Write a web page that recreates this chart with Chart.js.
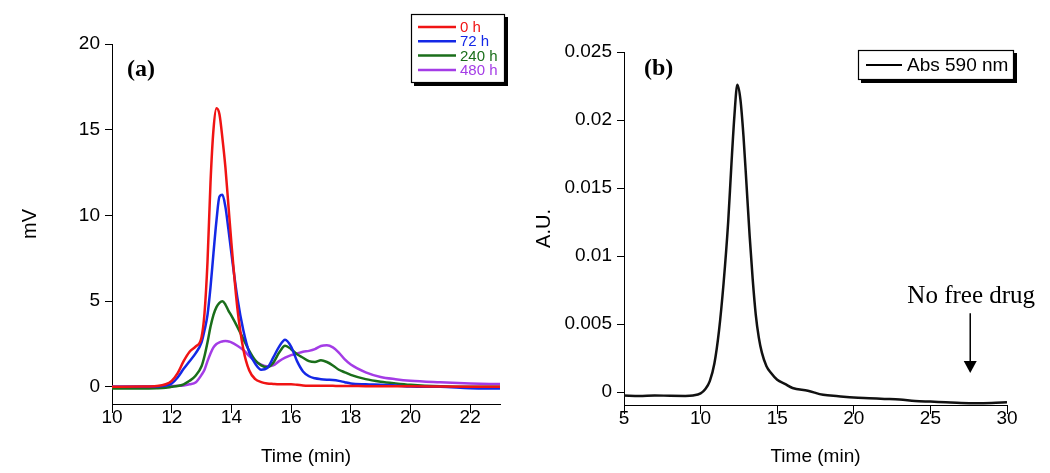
<!DOCTYPE html>
<html>
<head>
<meta charset="utf-8">
<script src="https://cdn.jsdelivr.net/npm/chart.js@4.4.1/dist/chart.umd.min.js"></script>
<style>
  body{margin:0;background:#fff;}
  .panel{position:absolute;top:0;width:525px;height:473px;}
</style>
</head>
<body>
<div class="panel" style="left:0"><canvas id="gpcChart" width="525" height="473"></canvas></div>
<div class="panel" style="left:525px"><canvas id="absChart" width="525" height="473"></canvas></div>
<script>
// (a) GPC traces, mV vs time (min)
const timeA = [10,11,11.5,11.8,12,12.2,12.4,12.6,12.8,13,13.1,13.2,13.3,13.4,13.5,13.6,13.7,13.8,13.9,14,14.2,14.4,14.6,14.8,15,15.2,15.4,15.6,15.8,16,16.2,16.4,16.6,16.8,17,17.2,17.4,17.6,17.8,18,18.5,19,19.5,20,21,22,23];
const mv0h   = [0,0.02,0.05,0.15,0.35,0.8,1.5,2.05,2.35,2.9,4.3,7.3,11.9,15.0,16.25,15.9,14.5,12.8,10.6,8.4,4.6,2.2,0.95,0.45,0.28,0.2,0.17,0.15,0.15,0.15,0.12,0.08,0.07,0.07,0.06,0.06,0.06,0.05,0.05,0.05,0.04,0.04,0.03,0.03,0.02,0.01,0];
const mv72h  = [0,0,0.02,0.08,0.2,0.55,1.05,1.5,1.95,2.6,3.3,4.2,5.8,7.8,9.7,11.1,11.2,10.5,9.2,7.8,5.2,3.3,2.0,1.35,1.0,1.1,1.7,2.35,2.75,2.35,1.5,0.9,0.62,0.5,0.45,0.42,0.4,0.35,0.27,0.2,0.15,0.12,0.08,0.02,0,-0.08,-0.1];
const mv240h = [-0.1,-0.1,-0.08,-0.05,0,0.05,0.15,0.35,0.65,1.2,1.8,2.6,3.5,4.2,4.65,4.9,5.0,4.8,4.45,4.15,3.5,2.8,2.1,1.55,1.25,1.15,1.4,2.0,2.4,2.2,1.9,1.7,1.5,1.45,1.55,1.45,1.25,1.0,0.85,0.7,0.45,0.3,0.2,0.12,0.03,0,0];
const mv480h = [0,0.02,0.03,0.04,0.05,0.06,0.08,0.15,0.25,0.7,1.0,1.5,1.95,2.3,2.5,2.6,2.65,2.68,2.65,2.6,2.4,2.15,1.8,1.5,1.3,1.2,1.25,1.5,1.7,1.85,1.95,2.05,2.1,2.2,2.38,2.42,2.3,2.0,1.6,1.3,0.85,0.58,0.45,0.36,0.27,0.2,0.16];
const labelsA = ['0 h','72 h','240 h','480 h'];
const colorsA = ['#f01414','#1428e6','#1a6e1a','#a43ce6'];
const xTicksA = [10,12,14,16,18,20,22];
const yTicksA = [0,5,10,15,20];

// (b) absorbance at 590 nm vs time (min)
const timeB = [5,6,7,8,9,9.5,10,10.3,10.6,10.9,11.2,11.5,11.8,12,12.2,12.4,12.6,12.8,13,13.2,13.4,13.6,13.8,14,14.3,14.6,15,15.5,16,17,18,19,20,21,22,23,24,25,26,27,28,29,30];
const absB  = [-0.00025,-0.00028,-0.00025,-0.00027,-0.00028,-0.00025,-0.0001,0.0002,0.0008,0.0021,0.0045,0.008,0.0125,0.0165,0.0202,0.0226,0.0215,0.0188,0.0152,0.0115,0.0083,0.0057,0.004,0.0029,0.0019,0.0014,0.0009,0.0006,0.0003,0.0001,-0.0002,-0.0003,-0.0004,-0.00045,-0.0005,-0.00055,-0.00065,-0.0007,-0.00075,-0.0008,-0.00082,-0.0008,-0.00075];
const xTicksB = [5,10,15,20,25,30];
const yTicksB = [0,0.005,0.01,0.015,0.02,0.025];
const arrowB = {x:27.6, from:0.0058, to:0.0014, text:'No free drug'};

const SANS = "'Liberation Sans', Arial, sans-serif";
const SERIF = "'Liberation Serif', 'Times New Roman', serif";

DocumentReady(function(){
  const pts = (xs, ys) => xs.map((x,i) => ({x:x, y:ys[i]}));

  function axes(xMin, xMax, xTicks, yMin, yMax, yTicks, yTitle, yWidth, yTitlePad, xHeight){
    return {
      x: {
        type:'linear', min:xMin, max:xMax,
        afterBuildTicks: s => { s.ticks = xTicks.map(v => ({value:v})); },
        afterFit: s => { s.height = xHeight; },
        border: {display:true, color:'#000', width:1},
        grid: {drawOnChartArea:false, tickLength:9, color:'#000'},
        ticks: {color:'#000', padding:-7, maxRotation:0, font:{family:SANS, size:19}, callback: v => String(v)},
        title: {display:true, text:'Time (min)', color:'#000', font:{family:SANS, size:19}, padding:{top:0, bottom:5}}
      },
      y: {
        min:yMin, max:yMax,
        afterBuildTicks: s => { s.ticks = yTicks.map(v => ({value:v})); },
        afterFit: s => { s.width = yWidth; },
        border: {display:true, color:'#000', width:1},
        grid: {drawOnChartArea:false, tickLength:7, color:'#000'},
        ticks: {color:'#000', padding:5, font:{family:SANS, size:19}, callback: v => String(v)},
        title: {display:true, text:yTitle, color:'#000', font:{family:SANS, size:20}, padding:{top:yTitlePad, bottom:0}}
      }
    };
  }

  function shadowBox(ctx, x, y, w, h){
    ctx.fillStyle = '#000';
    ctx.fillRect(x+3, y+3, w, h);
    ctx.fillStyle = '#fff';
    ctx.fillRect(x, y, w, h);
    ctx.strokeStyle = '#000';
    ctx.lineWidth = 1.2;
    ctx.strokeRect(x+0.5, y+0.5, w-1, h-1);
    ctx.fillStyle = '#000';
  }

  const decorA = {
    id:'decorA',
    afterDraw(chart){
      const ctx = chart.ctx;
      ctx.save();
      ctx.font = 'bold 24px ' + SERIF;
      ctx.fillStyle = '#000';
      ctx.textBaseline = 'alphabetic';
      ctx.fillText('(a)', 127, 76);
      shadowBox(ctx, 411, 14, 94, 69);
      ctx.font = '15px ' + SANS;
      ctx.textBaseline = 'middle';
      chart.data.datasets.forEach((ds, i) => {
        const y = 27 + i*14.3;
        ctx.strokeStyle = ds.borderColor;
        ctx.lineWidth = 2.5;
        ctx.beginPath(); ctx.moveTo(418, y); ctx.lineTo(456, y); ctx.stroke();
        ctx.fillStyle = ds.borderColor;
        ctx.fillText(ds.label, 460, y + 1);
      });
      ctx.restore();
    }
  };

  const decorB = {
    id:'decorB',
    afterDraw(chart){
      const ctx = chart.ctx;
      const xs = chart.scales.x, ys = chart.scales.y;
      ctx.save();
      ctx.font = 'bold 24px ' + SERIF;
      ctx.fillStyle = '#000';
      ctx.fillText('(b)', 119, 75);
      shadowBox(ctx, 333, 50, 156, 30);
      ctx.strokeStyle = '#000';
      ctx.lineWidth = 2;
      ctx.beginPath(); ctx.moveTo(341, 65); ctx.lineTo(377, 65); ctx.stroke();
      ctx.font = '19px ' + SANS;
      ctx.textBaseline = 'middle';
      ctx.fillText(chart.data.datasets[0].label, 382, 66);
      // annotation arrow
      const ax = xs.getPixelForValue(arrowB.x);
      const y0 = ys.getPixelForValue(arrowB.from);
      const y1 = ys.getPixelForValue(arrowB.to);
      ctx.lineWidth = 1.5;
      ctx.beginPath(); ctx.moveTo(ax, y0); ctx.lineTo(ax, y1 - 10); ctx.stroke();
      ctx.beginPath(); ctx.moveTo(ax - 6.5, y1 - 12); ctx.lineTo(ax + 6.5, y1 - 12); ctx.lineTo(ax, y1); ctx.closePath(); ctx.fill();
      ctx.font = '25px ' + SERIF;
      ctx.textAlign = 'center';
      ctx.textBaseline = 'alphabetic';
      ctx.fillText(arrowB.text, ax + 1, y0 - 10);
      ctx.restore();
    }
  };

  new Chart(document.getElementById('gpcChart'), {
    type:'line',
    data:{
      datasets: [mv0h, mv72h, mv240h, mv480h].map((ys, i) => ({
        label: labelsA[i],
        data: pts(timeA, ys),
        borderColor: colorsA[i],
        borderWidth: 2.5,
        pointRadius: 0,
        tension: 0.35,
        cubicInterpolationMode: 'monotone',
        fill: false
      }))
    },
    options:{
      responsive:false,
      animation:false,
      layout:{padding:{top:44, right:25, left:0, bottom:0}},
      plugins:{legend:{display:false}, tooltip:{enabled:false}},
      scales: axes(10, 23, xTicksA, -1, 20, yTicksA, 'mV', 112, 18, 69)
    },
    plugins:[decorA]
  });

  new Chart(document.getElementById('absChart'), {
    type:'line',
    data:{
      datasets:[{
        label:'Abs 590 nm',
        data: pts(timeB, absB),
        borderColor:'#111',
        borderWidth:2.5,
        pointRadius:0,
        tension:0.35,
        cubicInterpolationMode:'monotone',
        fill:false
      }]
    },
    options:{
      responsive:false,
      animation:false,
      layout:{padding:{top:52, right:43, left:0, bottom:0}},
      plugins:{legend:{display:false}, tooltip:{enabled:false}},
      scales: axes(5, 30, xTicksB, -0.00095, 0.025, yTicksB, 'A.U.', 99, 7, 68)
    },
    plugins:[decorB]
  });
});

function DocumentReady(cb){
  if(document.readyState!=='loading')cb();
  else document.addEventListener('DOMContentLoaded',cb);
}
</script>
</body>
</html>
